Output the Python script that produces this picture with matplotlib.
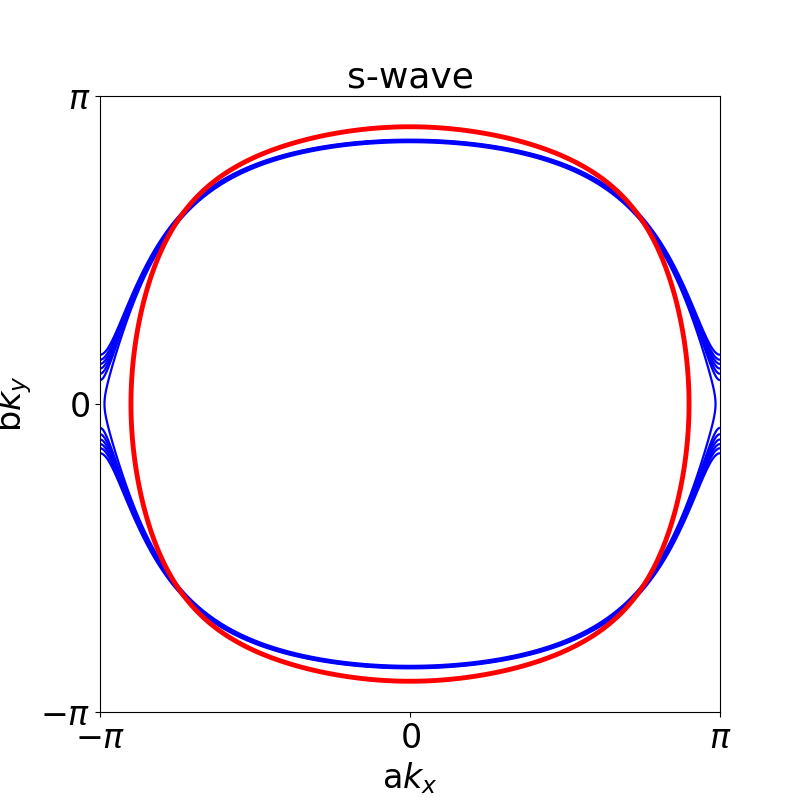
import numpy as np
import matplotlib
matplotlib.use("Agg")
import matplotlib.pyplot as plt

# Tight-binding model parameters
# E(k) = -t1*cos(kx) - t2*cos(ky) + t3*cos(kx)*cos(ky)
red_hoppings = [1.0, 1.0, -0.905]
red_levels = [0.812]
blue_hoppings = [1.0, 1.1106, -0.9408]
blue_offsets = [-0.002, 0.005, 0.008, 0.011, 0.014, 0.017, 0.021]

tick_values = [-np.pi, 0, np.pi]
tick_labels = [r"$-\pi$", r"$0$", r"$\pi$"]

k = np.linspace(-np.pi, np.pi, 801)
KX, KY = np.meshgrid(k, k)


def band(h):
    return -h[0] * np.cos(KX) - h[1] * np.cos(KY) + h[2] * np.cos(KX) * np.cos(KY)


fig, ax = plt.subplots(figsize=(8, 8), dpi=100)

saddle = 1 - blue_hoppings[1] - blue_hoppings[2]
blue_levels = sorted(saddle + d for d in blue_offsets)
ax.contour(KX, KY, band(blue_hoppings), levels=blue_levels, colors="blue", linewidths=1.6)
ax.contour(KX, KY, band(red_hoppings), levels=red_levels, colors="red", linewidths=3.5)

ax.set_xlim(-np.pi, np.pi)
ax.set_ylim(-np.pi, np.pi)
ax.set_xticks(tick_values)
ax.set_xticklabels(tick_labels)
ax.set_yticks(tick_values)
ax.set_yticklabels(tick_labels)
ax.tick_params(labelsize=24)
ax.set_xlabel(r"a$k_x$", fontsize=24)
ax.set_ylabel(r"b$k_y$", fontsize=24)
ax.set_title("s-wave", fontsize=26)

fig.savefig("out.png", dpi=100)
